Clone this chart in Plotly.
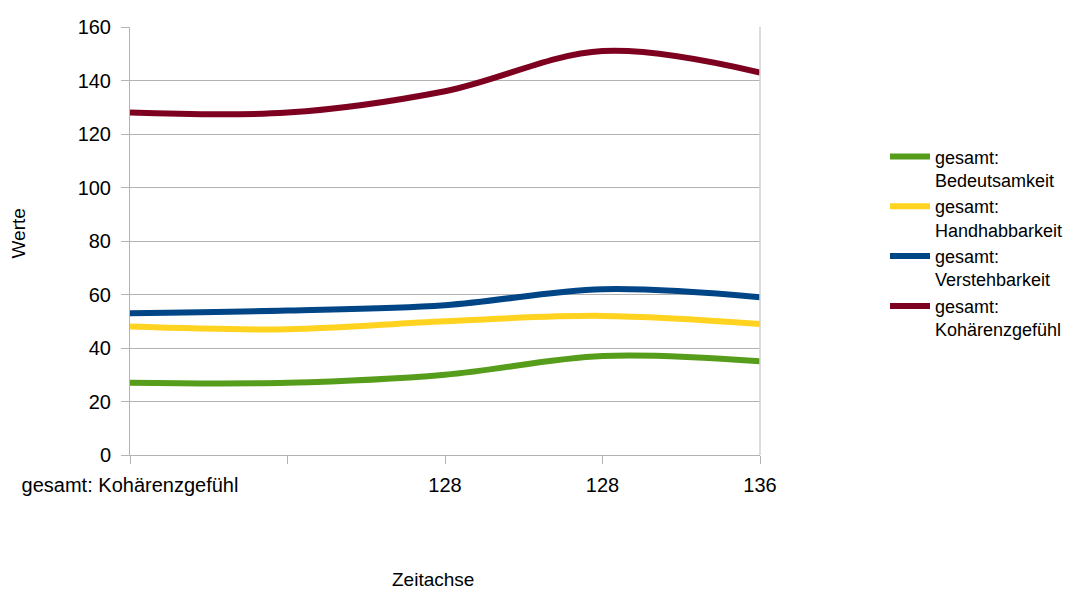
import plotly.graph_objects as go

# Category positions along the time axis and their printed labels
x_pos = [0, 1, 2, 3, 4]
x_labels = ["gesamt: Kohärenzgefühl", "", "128", "128", "136"]

# Series values
bedeutsamkeit = [27, 27, 30, 37, 35]
handhabbarkeit = [48, 47, 50, 52, 49]
verstehbarkeit = [53, 54, 56, 62, 59]
kohaerenzgefuehl = [128, 128, 136, 151, 143]

series_names = [
    "gesamt:<br>Bedeutsamkeit",
    "gesamt:<br>Handhabbarkeit",
    "gesamt:<br>Verstehbarkeit",
    "gesamt:<br>Kohärenzgefühl",
]
series_values = [bedeutsamkeit, handhabbarkeit, verstehbarkeit, kohaerenzgefuehl]
series_colors = ["#579d1c", "#ffd320", "#004586", "#7e0021"]

FONT = "Liberation Sans, Arial, sans-serif"
W, H = 1077, 592
L, R, T, B = 130, 5, 27, 137
PLOT_W = 630  # width of the plotting area in pixels

fig = go.Figure()
for name, vals, col in zip(series_names, series_values, series_colors):
    fig.add_trace(go.Scatter(
        x=x_pos, y=vals, name=name, mode="lines",
        line=dict(color=col, width=6, shape="spline", smoothing=1.0),
    ))

paper_w = W - L - R

fig.update_layout(
    width=W, height=H,
    margin=dict(l=L, r=R, t=T, b=B, autoexpand=False),
    paper_bgcolor="white", plot_bgcolor="white",
    font=dict(family=FONT, size=20, color="#000000"),
    showlegend=True,
    legend=dict(
        x=(885 - L) / paper_w, xanchor="left", xref="paper",
        y=0.74, yanchor="top",
        font=dict(family=FONT, size=18, color="#000000"),
        valign="top", traceorder="normal",
        itemwidth=40, tracegroupgap=0,
        bgcolor="rgba(0,0,0,0)",
    ),
    xaxis=dict(
        domain=[0, PLOT_W / paper_w],
        range=[0, 4],
        tickmode="array", tickvals=x_pos, ticktext=x_labels,
        ticks="outside", ticklen=8, tickcolor="#b3b3b3",
        ticklabelstandoff=4,
        showgrid=False, zeroline=False,
        showline=True, linecolor="#b3b3b3", linewidth=1,
        tickfont=dict(family=FONT, size=20, color="#000000"),
    ),
    yaxis=dict(
        range=[0, 160], dtick=20, tick0=0,
        ticks="outside", ticklen=8, tickcolor="#b3b3b3",
        ticklabelstandoff=6,
        showgrid=True, gridcolor="#b3b3b3", gridwidth=1,
        zeroline=False,
        showline=True, linecolor="#b3b3b3", linewidth=1,
        tickfont=dict(family=FONT, size=20, color="#000000"),
    ),
    shapes=[
        dict(type="line", xref="x domain", yref="y domain", x0=1, x1=1, y0=0, y1=1,
             line=dict(color="#d0d0d0", width=1.5)),
    ],
    annotations=[
        dict(text="Werte", xref="x domain", yref="y domain", x=(19 - L) / PLOT_W, y=0.5175,
             xanchor="center", yanchor="middle", textangle=-90, showarrow=False,
             font=dict(family=FONT, size=19, color="#000000")),
        dict(text="Zeitachse", xref="x domain", yref="y domain", x=(433 - L) / PLOT_W, y=-0.292,
             xanchor="center", yanchor="middle", showarrow=False,
             font=dict(family=FONT, size=19, color="#000000")),
    ],
)

fig.write_html("out.html")
